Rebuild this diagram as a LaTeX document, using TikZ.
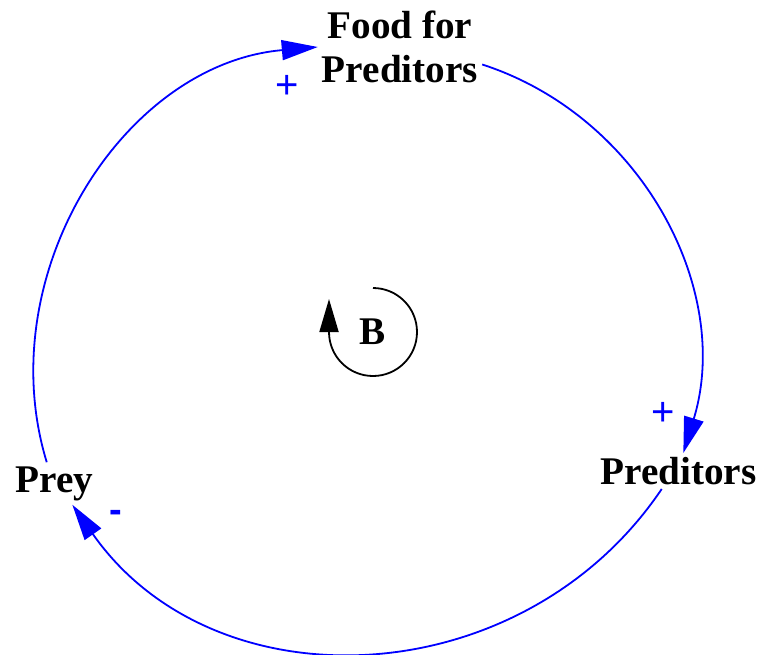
\documentclass[tikz,border=0pt]{standalone}
\usepackage{fontspec}
\setmainfont{Liberation Serif}
\newfontfamily\signfont{Liberation Sans}
\usetikzlibrary{arrows.meta}
\definecolor{linkblue}{HTML}{0000FF}

\begin{document}
\begin{tikzpicture}[
  x=1pt, y=1pt,
  var/.style={font=\fontsize{39.2}{44}\selectfont\bfseries, align=center, inner sep=4pt},
  link/.style={draw=linkblue, line width=1.8pt, -{Triangle[length=36pt,width=20pt]}},
  sign/.style={text=linkblue, font=\fontsize{40}{40}\selectfont\signfont, inner sep=0pt},
  loopline/.style={draw=black, line width=1.8pt, -{Triangle[length=33pt,width=19pt]}}
]
  \useasboundingbox (0,0) rectangle (760,-654);

  \node[var] (food) at (400,-47) {Food for\\Preditors};
  \node[var] (pred) at (678.5,-471) {Preditors};
  \node[var] (prey) at (54.5,-483.5) {Prey};
  \node[var] (b) at (373,-332) {B};

  \draw[link] (prey.110) to[out=107, in=185, looseness=1.01] (food.west);
  \draw[link] (food.-12) to[out=-18, in=73, looseness=0.99] (pred.75);
  \draw[link] (pred.-133) to[out=-124, in=-55, looseness=1.08] (prey.-50);

  \node[sign] (plusfood) at (287,-87) {+};
  \node[sign] (pluspred) at (663,-414) {+};
  \node[sign, font=\fontsize{38}{38}\selectfont\signfont\bfseries] (minusprey) at (116,-516.5) {-};

  % balancing loop marker
  \draw[loopline] ([yshift=44pt]b.center) arc[start angle=90, end angle=-180, radius=44] -- ++(0,33);
\end{tikzpicture}
\end{document}
